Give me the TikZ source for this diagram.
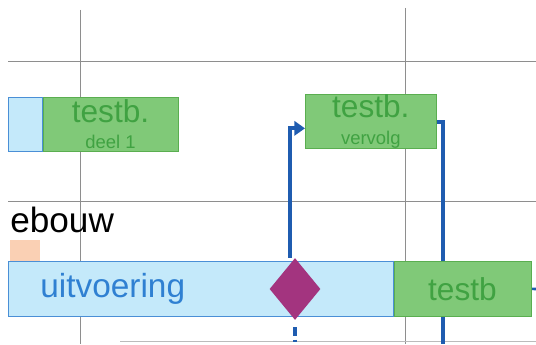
\documentclass[tikz,border=0pt]{standalone}
\usepackage{fontspec}
\setmainfont{Liberation Sans}
\usetikzlibrary{shapes.geometric}
\usetikzlibrary{arrows.meta}
\usetikzlibrary{positioning}
\usetikzlibrary{backgrounds}
\definecolor{balk-groen}{HTML}{80C978}
\definecolor{rand-groen}{HTML}{5AAE50}
\definecolor{tekst-groen}{HTML}{40A242}
\definecolor{balk-blauw}{HTML}{C4E9FA}
\definecolor{rand-blauw}{HTML}{4A8FD6}
\definecolor{tekst-blauw}{HTML}{2F80D2}
\definecolor{lijn-blauw}{HTML}{1F5CB0}
\definecolor{mijlpaal-paars}{HTML}{A3347F}
\definecolor{raster}{HTML}{8E8E8E}
\definecolor{oranje}{HTML}{FAD0B4}
\newcommand{\kleintekst}{\fontsize{10.5}{10.5}\selectfont}
\tikzset{every text node part/.style={align=center}}
\tikzstyle{groen-blok} = [rectangle, draw=rand-groen, fill=balk-groen, text=tekst-groen, inner sep=0pt, minimum height=1.08cm, font={\fontsize{18}{18}\selectfont}]
\tikzstyle{blauw-blok} = [rectangle, draw=rand-blauw, fill=balk-blauw, inner sep=0pt, minimum height=1.08cm]
\tikzstyle{pijl} = [draw=lijn-blauw, line width=2.4pt, arrows={-Triangle[length=6pt, width=8pt]}]

\begin{document}
\begin{tikzpicture}[x=0.02cm, y=-0.02cm,
        rasterlijn/.style={draw=raster, line width=0.5pt},
        mijlpaal/.style={diamond, fill=mijlpaal-paars, inner sep=0pt, minimum width=1.02cm, minimum height=1.24cm, aspect=0.8}
      ]
      \useasboundingbox (0,0) rectangle (536,344);
      % bovenste balk
      \node[blauw-blok, anchor=north west, minimum width=0.68cm] (voorloop) at (8,97) {};
      \node[groen-blok, minimum width=2.7cm] (deel1) [right=0pt of voorloop] {testb.\\[-3pt]{\kleintekst deel 1}};
      \node[groen-blok, anchor=north west, minimum width=2.62cm] (vervolg) at (305,94) {testb.\\[-3pt]{\kleintekst vervolg}};
      % onderste balk
      \node[anchor=base west, inner sep=0pt, font={\fontsize{20}{20}\selectfont}] (ebouw) at (10,232) {ebouw};
      \node[anchor=north west, fill=oranje, minimum width=0.6cm, minimum height=0.42cm, inner sep=0pt] (oranjeblok) at (10,240) {};
      \node[blauw-blok, anchor=north west, minimum width=7.7cm, minimum height=1.1cm] (uitvoering) at (8,261) {};
      \node[anchor=west, inner sep=0pt, text=tekst-blauw, font={\fontsize{19}{19}\selectfont}] (uitvoeringtxt) at (40,289) {uitvoering};
      \node[groen-blok, minimum width=2.74cm, minimum height=1.12cm] (testb) [right=0pt of uitvoering] {testb};
      \node[mijlpaal] (mijlpaal) at (295,289) {};
      \coordinate (onder) at (443,344);
      \coordinate (rechts) at (536,289);
      \begin{scope}[on background layer]
        % raster
        \draw[rasterlijn] (80,10) -- (80,344);
        \draw[rasterlijn] (405,8) -- (405,344);
        \draw[rasterlijn] (8,61) -- (536,61);
        \draw[rasterlijn] (8,201) -- (536,201);
        \draw[rasterlijn, draw=raster!60] (120,341) -- (536,341);
        % verbindingen
        \draw[pijl] ([xshift=-0.1cm]mijlpaal.north) |- ([yshift=-0.14cm]vervolg.west);
        \draw[pijl, arrows={-}] (vervolg.north east) ++(0,28) -| (onder);
        \draw[pijl, arrows={-}, dash pattern=on 5pt off 2pt] ([yshift=-0.14cm]mijlpaal.south) -- ++(0,15);
        \draw[draw=lijn-blauw, line width=1.5pt] (testb.east) -- (rechts);
      \end{scope}
    \end{tikzpicture}
\end{document}
